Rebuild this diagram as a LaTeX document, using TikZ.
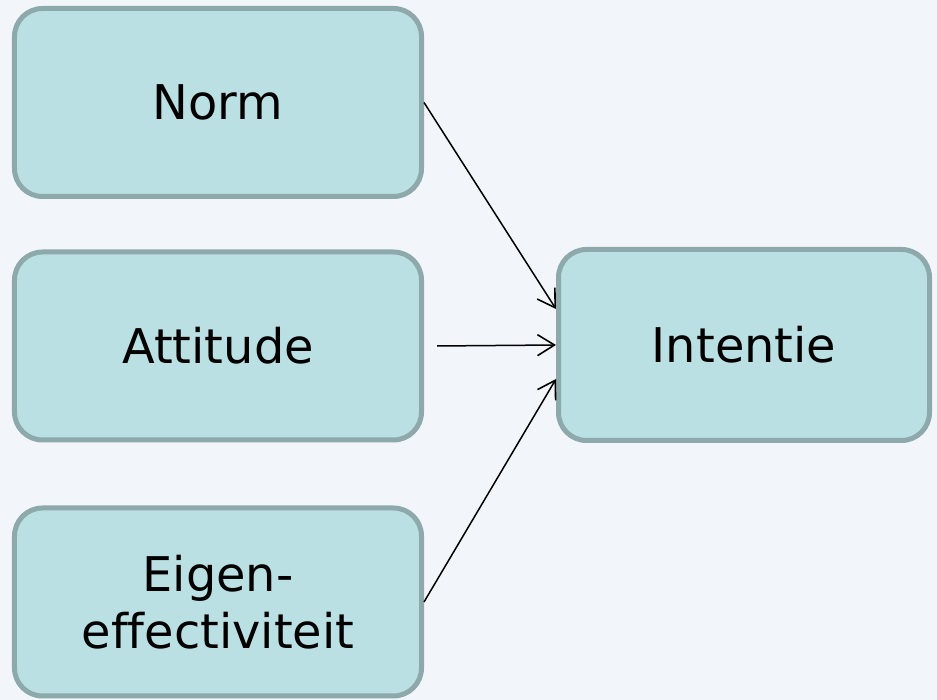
\documentclass[tikz,border=0pt]{standalone}
\usepackage{fontspec}
\setmainfont[Ligatures={NoCommon}]{DejaVu Sans}
\usetikzlibrary{arrows.meta}
\definecolor{bgcol}{HTML}{F2F6FA}
\definecolor{boxfill}{HTML}{BAE0E3}
\definecolor{boxdraw}{HTML}{8DA9AB}
\tikzset{
  box/.style={rectangle, rounded corners=28bp, fill=boxfill, draw=boxdraw, line width=5bp,
    minimum width=407bp, minimum height=188bp, inner sep=0pt, align=center,
    font=\fontsize{48}{57}\selectfont, text=black},
  conn/.style={draw=black, line width=1.5bp, -{Straight Barb[length=17bp,width=21bp,line width=1.6bp]}}
}
\begin{document}
\begin{tikzpicture}[x=1bp,y=1bp]
\useasboundingbox (0,0) rectangle (937,700);
\fill[bgcol] (0,0) rectangle (937,700);
\node[box] (norm) at (218,597.5) {Norm};
\node[box] (att) at (218,354) {Attitude};
\node[box] (eig) at (218,98) {Eigen-\\effectiviteit};
\node[box, minimum width=371bp, minimum height=191bp] (int) at (744,355) {Intentie};
\draw[conn] (norm.east) -- ([yshift=36bp]int.west);
\draw[conn] ([xshift=13bp]att.east) -- (int.west);
\draw[conn] (eig.east) -- ([yshift=-34bp]int.west);
\end{tikzpicture}
\end{document}
